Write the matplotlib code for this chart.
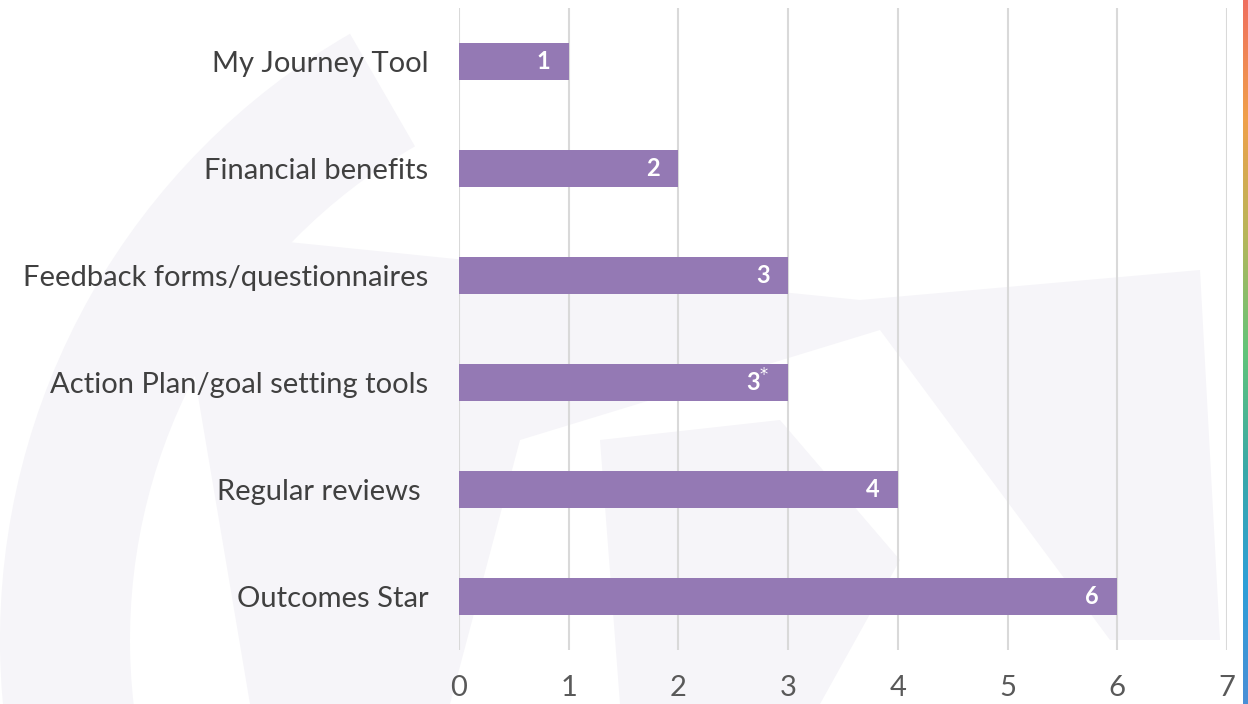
import numpy as np
import matplotlib.pyplot as plt
from matplotlib.patches import Wedge, Polygon
from matplotlib.colors import LinearSegmentedColormap

categories = ["My Journey Tool", "Financial benefits", "Feedback forms/questionnaires",
              "Action Plan/goal setting tools", "Regular reviews ", "Outcomes Star"]
counts = [1, 2, 3, 3, 4, 6]
value_labels = ["1", "2", "3", "3$^{*}$", "4", "6"]
x_ticks = [0, 1, 2, 3, 4, 5, 6, 7]

bar_color = "#9479b4"
shade = "#f6f5f9"

plt.rcParams['font.family'] = ['Lato', 'DejaVu Sans']

fig = plt.figure(figsize=(12.48, 7.04), dpi=100)
fig.patch.set_facecolor("white")

# faint watermark shapes in the background
bg = fig.add_axes([0, 0, 1, 1], zorder=0)
bg.set_xlim(0, 1248)
bg.set_ylim(704, 0)
bg.axis('off')
bg.add_patch(Wedge((700, 640), 700, 118, 240, width=130, color=shade, lw=0))
bg.add_patch(Polygon([[170, 230], [860, 300], [1200, 270], [1220, 640], [1110, 640],
                      [880, 330], [520, 440], [450, 704], [250, 704]],
                     closed=True, color=shade, lw=0))
bg.add_patch(Polygon([[600, 440], [780, 420], [900, 560], [820, 704], [620, 704]],
                     closed=True, color=shade, lw=0))

# rainbow strip on right edge
strip = fig.add_axes([1243 / 1248, 0, 5 / 1248, 1], zorder=1)
rainbow = LinearSegmentedColormap.from_list(
    "edge", ["#4a8fd6", "#2e9fd8", "#3aa9a8", "#62c47a", "#b7b65a", "#f0a04a", "#ef6f5f"])
grad = np.linspace(0, 1, 256).reshape(-1, 1)
strip.imshow(grad, aspect='auto', cmap=rainbow, origin='lower', extent=[0, 1, 0, 1])
strip.axis('off')

ax = fig.add_axes([459 / 1248, 1 - 650 / 704, (1227 - 459) / 1248, (650 - 8) / 704], zorder=2)
ax.patch.set_alpha(0)

y = np.arange(len(categories))
ax.barh(y, counts, height=0.355, color=bar_color, zorder=3)
for yi, c, lab in zip(y, counts, value_labels):
    ax.text(c - 0.17, yi, lab, ha='right', va='center', color='white',
            fontsize=17, fontweight='bold', zorder=4)

ax.set_xlim(0, 7)
ax.set_ylim(len(categories) - 0.5, -0.5)
ax.set_xticks(x_ticks)
ax.set_yticks(y)
ax.set_yticklabels(categories, fontsize=21, color="#404040")
ax.tick_params(axis='x', labelsize=21, labelcolor="#595959", length=0, pad=18)
ax.tick_params(axis='y', length=0, pad=22)
ax.grid(axis='x', color="#d9d9d9", lw=1.5, zorder=1)
for s in ax.spines.values():
    s.set_visible(False)

fig.savefig("out.png", dpi=100)
